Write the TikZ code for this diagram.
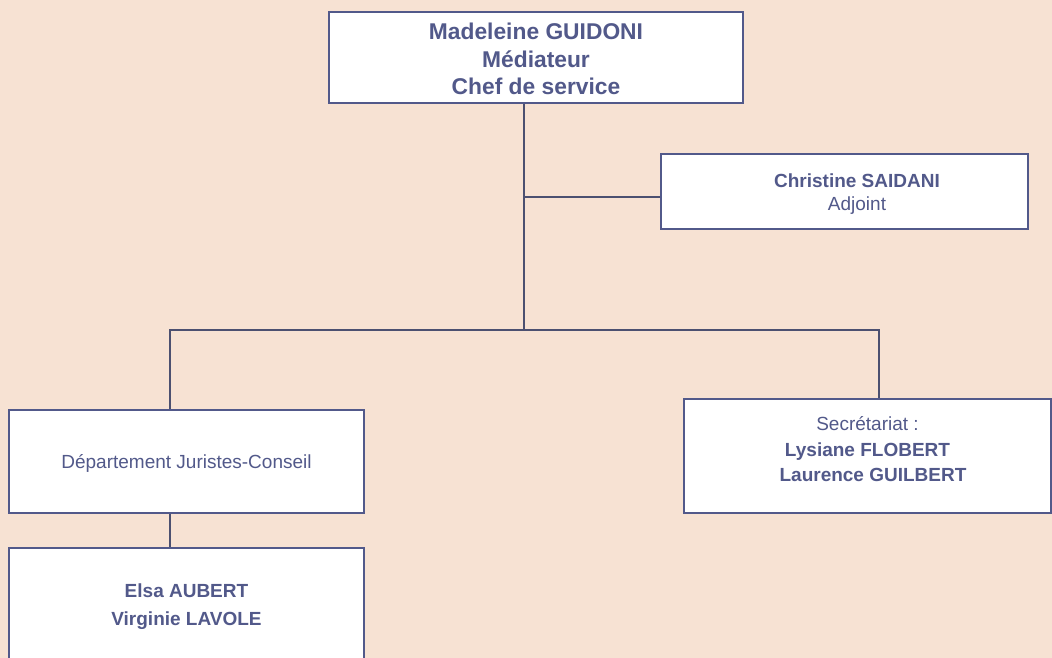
\documentclass[tikz,border=0pt]{standalone}
\usepackage{fontspec}
\setmainfont{Liberation Sans}
\definecolor{peach}{RGB}{247,226,211}
\definecolor{orgblue}{RGB}{82,89,138}
\definecolor{orgline}{RGB}{76,80,112}

\begin{document}
\begin{tikzpicture}[x=1pt,y=-1pt,
    orgbox/.style={draw=orgblue, fill=white, line width=1.6pt, align=center,
      text=orgblue, inner sep=0pt, font=\fontsize{19}{25}\selectfont},
    orgtext/.style={align=center, text=orgblue, inner sep=0pt,
      font=\fontsize{19}{25}\selectfont},
    link/.style={draw=orgline, line width=1.5pt}]
    \def \trunk {524}

    \fill[peach] (0,0) rectangle (1052,658);
    \useasboundingbox (0,0) rectangle (1052,658);

    \node[orgbox, minimum width=414pt, minimum height=91pt,
      font=\fontsize{22.8}{27.5}\selectfont\bfseries] at (536,57.5) (chef) {};
    \node[orgtext, font=\fontsize{22.8}{27.5}\selectfont\bfseries]
      at ([yshift=-1.5pt]chef.center) (chef-txt)
      {Madeleine GUIDONI\\Médiateur\\Chef de service};

    \node[orgbox, minimum width=367pt, minimum height=75pt] at (844.5,191.5) (adjoint) {};
    \node[orgtext, font=\fontsize{19}{23}\selectfont]
      at ([xshift=12.5pt,yshift=-3pt]adjoint.center) (adjoint-txt)
      {\textbf{Christine SAIDANI}\\Adjoint};

    \node[orgbox, minimum width=355pt, minimum height=103pt] at (186.5,461.5) (juristes) {};
    \node[orgtext] at ([yshift=-2pt]juristes.center) (juristes-txt)
      {Département Juristes-Conseil};

    \node[orgbox, minimum width=355pt, minimum height=118pt,
      font=\fontsize{19}{28}\selectfont\bfseries] at (186.5,607) (equipe)
      {Elsa AUBERT\\Virginie LAVOLE};

    \node[orgbox, minimum width=367pt, minimum height=114pt] at (867.5,456) (secretariat) {};
    \node[orgtext, font=\fontsize{19}{25.5}\selectfont]
      at ([yshift=6.5pt]secretariat.center) (secretariat-txt)
      {Secrétariat :\\\textbf{Lysiane FLOBERT}\hspace*{5pt}\\\hspace*{11pt}\textbf{Laurence GUILBERT}};

    \coordinate (fork) at (\trunk,330);
    \coordinate (forkl) at (170,330);
    \coordinate (forkr) at (879,330);

    \draw[link] (chef.south -| fork) -- (fork);
    \draw[link] ([yshift=-5.5pt]adjoint.west) -- ([yshift=-5.5pt]adjoint.west -| fork);
    \draw[link] (juristes.north -| forkl) -- (forkl) -- (forkr) -- (secretariat.north -| forkr);
    \draw[link] (juristes.south -| forkl) -- (equipe.north -| forkl);
\end{tikzpicture}
\end{document}
